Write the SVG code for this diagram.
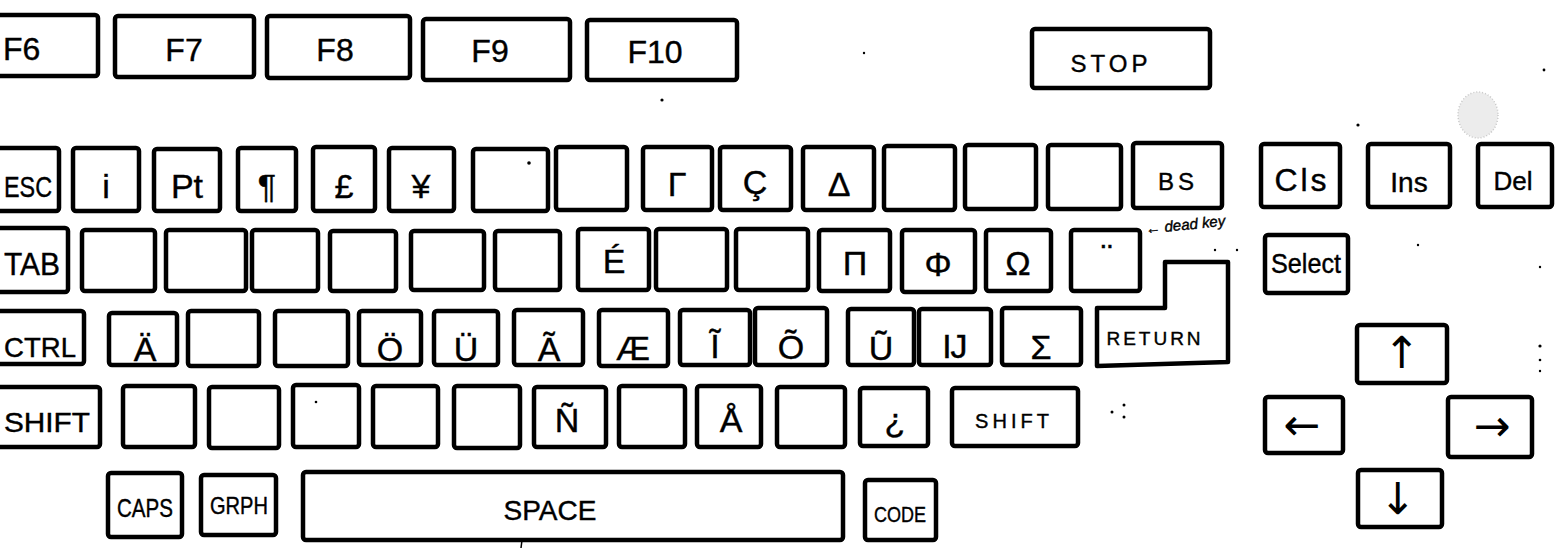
<svg xmlns="http://www.w3.org/2000/svg" width="1558" height="552" viewBox="0 0 1558 552">
<style>
.k{fill:none;stroke:#000;stroke-width:4.5;stroke-linejoin:round;stroke-linecap:round}
.t{font-family:"Liberation Sans","DejaVu Sans",sans-serif;fill:#000;stroke:#000;stroke-width:0.4;text-anchor:middle}
.s{text-anchor:start}
.big{font-size:34px}
.ar{font-family:"DejaVu Sans","Liberation Sans",sans-serif;font-size:44px;fill:#000;text-anchor:middle;dominant-baseline:central}
.dot{fill:#000}
</style>
<rect width="1558" height="552" fill="#fff"/>
<g id="row1">
<g id="key-f6"><rect class="k" x="-10" y="15" width="108" height="61" rx="3"/><text class="t s" x="3" y="60" font-size="32">F6</text></g>
<g id="key-f7"><rect class="k" x="115" y="16" width="139" height="61" rx="3"/><text class="t" x="184" y="61" font-size="32">F7</text></g>
<g id="key-f8"><rect class="k" x="267" y="16" width="143" height="62" rx="3"/><text class="t" x="335" y="61" font-size="32">F8</text></g>
<g id="key-f9"><rect class="k" x="423" y="19" width="147" height="61" rx="3"/><text class="t" x="490" y="62" font-size="32">F9</text></g>
<g id="key-f10"><rect class="k" x="587" y="20" width="150" height="60" rx="3"/><text class="t" x="655" y="63" font-size="32">F10</text></g>
<g id="key-stop"><rect class="k" x="1032" y="29" width="178" height="59" rx="3"/><text class="t" x="1111" y="72" font-size="24" letter-spacing="4">STOP</text></g>
</g>
<g id="row2">
<g id="key-esc"><rect class="k" x="-10" y="148" width="69" height="63" rx="3"/><text class="t s" x="4" y="197" font-size="30" textLength="48" lengthAdjust="spacingAndGlyphs">ESC</text></g>
<g id="key-i"><rect class="k" x="73" y="148" width="66" height="63" rx="3"/><text class="t big" x="106" y="198">i</text></g>
<g id="key-pt"><rect class="k" x="154" y="149" width="66" height="62" rx="3"/><text class="t big" x="187" y="198">Pt</text></g>
<g id="key-para"><rect class="k" x="238" y="148" width="58" height="63" rx="3"/><text class="t big" x="267" y="198">¶</text></g>
<g id="key-pound"><rect class="k" x="313" y="147" width="62" height="64" rx="3"/><text class="t big" x="344" y="198">£</text></g>
<g id="key-yen"><rect class="k" x="389" y="148" width="65" height="63" rx="3"/><text class="t big" x="421" y="198">¥</text></g>
<g id="key-b1"><rect class="k" x="473" y="149" width="75" height="62" rx="3"/></g>
<g id="key-b2"><rect class="k" x="556" y="147" width="71" height="63" rx="3"/></g>
<g id="key-gamma"><rect class="k" x="643" y="147" width="69" height="63" rx="3"/><text class="t big" x="677" y="196">Γ</text></g>
<g id="key-ccedil"><rect class="k" x="720" y="147" width="71" height="63" rx="3"/><text class="t big" x="755" y="194">Ç</text></g>
<g id="key-delta"><rect class="k" x="803" y="147" width="71" height="63" rx="3"/><text class="t big" x="839" y="196">Δ</text></g>
<g id="key-b3"><rect class="k" x="884" y="146" width="71" height="64" rx="3"/></g>
<g id="key-b4"><rect class="k" x="965" y="145" width="71" height="64" rx="3"/></g>
<g id="key-b5"><rect class="k" x="1048" y="145" width="73" height="64" rx="3"/></g>
<g id="key-bs"><rect class="k" x="1133" y="143" width="89" height="65" rx="3"/><text class="t" x="1178" y="190" font-size="24" letter-spacing="4">BS</text></g>
<g id="key-cls"><rect class="k" x="1261" y="144" width="79" height="63" rx="3"/><text class="t" x="1302" y="191" font-size="32" letter-spacing="3">Cls</text></g>
<g id="key-ins"><rect class="k" x="1368" y="144" width="82" height="63" rx="3"/><text class="t" x="1409" y="192" font-size="28">Ins</text></g>
<g id="key-del"><rect class="k" x="1478" y="144" width="74" height="63" rx="3"/><text class="t" x="1513" y="190" font-size="26">Del</text></g>
</g>
<g id="row3">
<g id="key-tab"><rect class="k" x="-10" y="228" width="78" height="64" rx="3"/><text class="t s" x="4" y="275" font-size="32" textLength="56" lengthAdjust="spacingAndGlyphs">TAB</text></g>
<g id="key-c1"><rect class="k" x="82" y="230" width="73" height="61" rx="3"/></g>
<g id="key-c2"><rect class="k" x="166" y="230" width="80" height="61" rx="3"/></g>
<g id="key-c3"><rect class="k" x="252" y="230" width="66" height="61" rx="3"/></g>
<g id="key-c4"><rect class="k" x="330" y="231" width="66" height="60" rx="3"/></g>
<g id="key-c5"><rect class="k" x="411" y="231" width="73" height="59" rx="3"/></g>
<g id="key-c6"><rect class="k" x="495" y="231" width="65" height="59" rx="3"/></g>
<g id="key-eacute"><rect class="k" x="578" y="229" width="71" height="61" rx="3"/><text class="t big" x="614" y="273">É</text></g>
<g id="key-c7"><rect class="k" x="656" y="229" width="71" height="61" rx="3"/></g>
<g id="key-c8"><rect class="k" x="736" y="229" width="72" height="61" rx="3"/></g>
<g id="key-pi"><rect class="k" x="819" y="230" width="71" height="61" rx="3"/><text class="t big" x="855" y="275">Π</text></g>
<g id="key-phi"><rect class="k" x="902" y="230" width="73" height="62" rx="3"/><text class="t big" x="938" y="276">Φ</text></g>
<g id="key-omega"><rect class="k" x="986" y="230" width="65" height="61" rx="3"/><text class="t big" x="1018" y="275">Ω</text></g>
<g id="key-dead"><rect class="k" x="1071" y="230" width="69" height="61" rx="3"/><text class="t big" x="1107" y="268">¨</text></g>
<g id="note-dead"><text class="t s" x="1146" y="234" font-size="15" font-style="italic" stroke-width="0.3" transform="rotate(-6 1146 234)">← dead key</text></g>
<g id="key-select"><rect class="k" x="1265" y="235" width="83" height="58" rx="3"/><text class="t" x="1306" y="273" font-size="27" textLength="70" lengthAdjust="spacingAndGlyphs">Select</text></g>
</g>
<g id="row4">
<g id="key-ctrl"><rect class="k" x="-10" y="311" width="94" height="53" rx="3"/><text class="t s" x="4" y="357" font-size="28" textLength="72" lengthAdjust="spacingAndGlyphs">CTRL</text></g>
<g id="key-auml"><rect class="k" x="109" y="313" width="68" height="52" rx="3"/><text class="t big" x="145" y="361">Ä</text></g>
<g id="key-d1"><rect class="k" x="188" y="311" width="71" height="55" rx="3"/></g>
<g id="key-d2"><rect class="k" x="275" y="311" width="73" height="55" rx="3"/></g>
<g id="key-ouml"><rect class="k" x="359" y="311" width="62" height="54" rx="3"/><text class="t big" x="390" y="361">Ö</text></g>
<g id="key-uuml"><rect class="k" x="434" y="311" width="64" height="54" rx="3"/><text class="t big" x="466" y="361">Ü</text></g>
<g id="key-atilde"><rect class="k" x="514" y="310" width="69" height="55" rx="3"/><text class="t big" x="549" y="361">Ã</text></g>
<g id="key-ae"><rect class="k" x="599" y="310" width="69" height="56" rx="3"/><text class="t big" x="633" y="360">Æ</text></g>
<g id="key-itilde"><rect class="k" x="680" y="310" width="70" height="55" rx="3"/><text class="t big" x="715" y="358">Ĩ</text></g>
<g id="key-otilde"><rect class="k" x="755" y="308" width="72" height="57" rx="3"/><text class="t big" x="791" y="359">Õ</text></g>
<g id="key-utilde"><rect class="k" x="848" y="309" width="66" height="56" rx="3"/><text class="t big" x="881" y="360">Ũ</text></g>
<g id="key-ij"><rect class="k" x="919" y="309" width="72" height="56" rx="3"/><text class="t big" x="955" y="358">Ĳ</text></g>
<g id="key-sigma"><rect class="k" x="1002" y="308" width="79" height="57" rx="3"/><text class="t big" x="1041" y="359">Σ</text></g>
<g id="key-return"><path class="k" d="M1097 308 L1165 308 L1165 262 L1228 262 L1228 362 L1097 366 Z"/><text class="t" x="1155" y="345" font-size="19" letter-spacing="3">RETURN</text></g>
<g id="key-up"><rect class="k" x="1357" y="325" width="90" height="58" rx="3"/><text class="ar" x="1402" y="352">↑</text></g>
</g>
<g id="row5">
<g id="key-lshift"><rect class="k" x="-10" y="387" width="110" height="60" rx="3"/><text class="t s" x="4" y="432" font-size="28" textLength="86" lengthAdjust="spacingAndGlyphs">SHIFT</text></g>
<g id="key-e1"><rect class="k" x="123" y="386" width="72" height="61" rx="3"/></g>
<g id="key-e2"><rect class="k" x="209" y="387" width="70" height="61" rx="3"/></g>
<g id="key-e3"><rect class="k" x="293" y="385" width="66" height="62" rx="3"/></g>
<g id="key-e4"><rect class="k" x="373" y="386" width="65" height="61" rx="3"/></g>
<g id="key-e5"><rect class="k" x="454" y="386" width="66" height="62" rx="3"/></g>
<g id="key-ntilde"><rect class="k" x="534" y="387" width="72" height="60" rx="3"/><text class="t big" x="567" y="432">Ñ</text></g>
<g id="key-e6"><rect class="k" x="619" y="386" width="66" height="61" rx="3"/></g>
<g id="key-aring"><rect class="k" x="697" y="386" width="64" height="61" rx="3"/><text class="t big" x="731" y="432">Å</text></g>
<g id="key-e7"><rect class="k" x="777" y="387" width="68" height="60" rx="3"/></g>
<g id="key-iquest"><rect class="k" x="860" y="388" width="68" height="58" rx="3"/><text class="t big" x="895" y="432">¿</text></g>
<g id="key-rshift"><rect class="k" x="952" y="388" width="126" height="58" rx="3"/><text class="t" x="1014" y="428" font-size="20" letter-spacing="4">SHIFT</text></g>
<g id="key-left"><rect class="k" x="1265" y="397" width="78" height="56" rx="3"/><text class="ar" x="1302" y="424">←</text></g>
<g id="key-right"><rect class="k" x="1448" y="397" width="84" height="60" rx="3"/><text class="ar" x="1492" y="425">→</text></g>
</g>
<g id="row6">
<g id="key-caps"><rect class="k" x="108" y="473" width="74" height="64" rx="3"/><text class="t" x="145" y="517" font-size="26" textLength="56" lengthAdjust="spacingAndGlyphs">CAPS</text></g>
<g id="key-grph"><rect class="k" x="201" y="475" width="75" height="60" rx="3"/><text class="t" x="239" y="514" font-size="24" textLength="58" lengthAdjust="spacingAndGlyphs">GRPH</text></g>
<g id="key-space"><rect class="k" x="303" y="472" width="540" height="68" rx="3"/><text class="t" x="550" y="520" font-size="28">SPACE</text></g>
<g id="key-code"><rect class="k" x="865" y="480" width="71" height="60" rx="3"/><text class="t" x="900" y="522" font-size="22" textLength="52" lengthAdjust="spacingAndGlyphs">CODE</text></g>
<g id="key-down"><rect class="k" x="1358" y="470" width="84" height="57" rx="3"/><text class="ar" x="1398" y="498">↓</text></g>
</g>
<g id="marks">
<ellipse cx="1478" cy="115" rx="20" ry="23" fill="#ececec" stroke="#c8c8c8" stroke-width="1.5" stroke-dasharray="1 2"/>
<circle class="dot" cx="529" cy="163" r="1.8"/>
<circle class="dot" cx="662" cy="100" r="1.6"/>
<circle class="dot" cx="864" cy="53" r="1.2"/>
<circle class="dot" cx="1358" cy="125" r="1.6"/>
<circle class="dot" cx="1544" cy="70" r="1.4"/>
<circle class="dot" cx="1418" cy="245" r="1.2"/>
<circle class="dot" cx="1540" cy="267" r="1.2"/>
<circle class="dot" cx="1540" cy="346" r="1.6"/>
<circle class="dot" cx="1540" cy="360" r="1.3"/>
<circle class="dot" cx="1540" cy="371" r="1.2"/>
<circle class="dot" cx="1215" cy="250" r="1.2"/>
<circle class="dot" cx="1237" cy="250" r="1.2"/>
<circle class="dot" cx="1112" cy="412" r="1.5"/>
<circle class="dot" cx="1124" cy="405" r="1.5"/>
<circle class="dot" cx="1124" cy="417" r="1.5"/>
<circle class="dot" cx="316" cy="402" r="1.3"/>
<path d="M522 540 L521 548" stroke="#000" stroke-width="1.5"/>
</g>
</svg>
